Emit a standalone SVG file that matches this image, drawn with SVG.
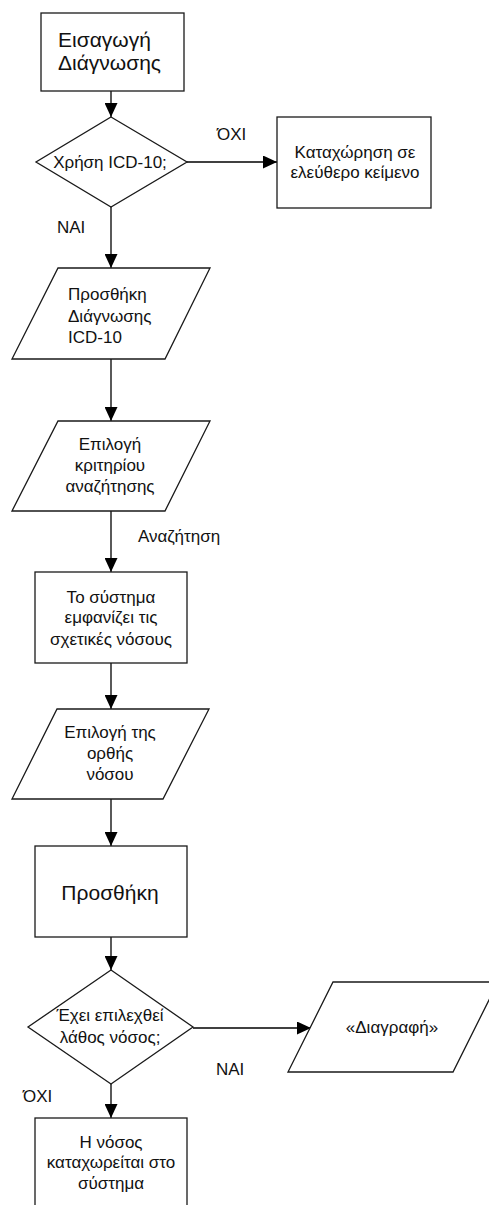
<svg xmlns="http://www.w3.org/2000/svg" width="489" height="1205" viewBox="0 0 489 1205">
<style>
.shape{fill:#fff;stroke:#1a1a1a;stroke-width:1.3}
.conn{fill:none;stroke:#000;stroke-width:1.3}
text{font-family:"Liberation Sans",Arial,sans-serif;fill:#111;font-size:17px}
.big{font-size:21px}
.c{text-anchor:middle}
</style>
<defs>
<marker id="arr" markerUnits="userSpaceOnUse" markerWidth="14" markerHeight="13" refX="14" refY="6.5" orient="auto">
<path d="M0,0 L14,6.5 L0,13 z" fill="#000"/>
</marker>
</defs>
<rect width="489" height="1205" fill="#fff"/>
<g id="connectors">
<line class="conn" x1="111" y1="91" x2="111" y2="117" marker-end="url(#arr)"/>
<line class="conn" x1="187" y1="162" x2="277" y2="162" marker-end="url(#arr)"/>
<line class="conn" x1="111" y1="207" x2="111" y2="268" marker-end="url(#arr)"/>
<line class="conn" x1="111" y1="359" x2="111" y2="421" marker-end="url(#arr)"/>
<line class="conn" x1="111" y1="511" x2="111" y2="572" marker-end="url(#arr)"/>
<line class="conn" x1="111" y1="663" x2="111" y2="709" marker-end="url(#arr)"/>
<line class="conn" x1="111" y1="799" x2="111" y2="846" marker-end="url(#arr)"/>
<line class="conn" x1="111" y1="937" x2="111" y2="970" marker-end="url(#arr)"/>
<line class="conn" x1="193" y1="1028" x2="311" y2="1028" marker-end="url(#arr)"/>
<line class="conn" x1="111" y1="1084" x2="111" y2="1118" marker-end="url(#arr)"/>
<text x="217" y="140">ΌΧΙ</text>
<text x="57" y="233">ΝΑΙ</text>
<text x="138" y="542">Αναζήτηση</text>
<text x="216" y="1075">ΝΑΙ</text>
<text x="23" y="1102">ΌΧΙ</text>
</g>
<g id="n1">
<rect class="shape" x="41" y="13" width="143" height="78"/>
<text class="big" x="58" y="47">Εισαγωγή</text>
<text class="big" x="58" y="70">Διάγνωσης</text>
</g>
<g id="n2">
<polygon class="shape" points="111,117 187,162 111,207 36,162"/>
<text class="c" x="110" y="168" font-size="16.5">Χρήση ICD-10;</text>
</g>
<g id="n3">
<rect class="shape" x="277" y="117" width="154" height="91"/>
<text class="c" x="355" y="158">Καταχώρηση σε</text>
<text class="c" x="355" y="178">ελεύθερο κείμενο</text>
</g>
<g id="n4">
<polygon class="shape" points="58,268 210,268 165,359 12,359"/>
<text x="68" y="300">Προσθήκη</text>
<text x="68" y="322">Διάγνωσης</text>
<text x="68" y="343">ICD-10</text>
</g>
<g id="n5">
<polygon class="shape" points="58,421 210,421 165,511 12,511"/>
<text class="c" x="110" y="450">Επιλογή</text>
<text class="c" x="110" y="471">κριτηρίου</text>
<text class="c" x="110" y="492">αναζήτησης</text>
</g>
<g id="n6">
<rect class="shape" x="35" y="572" width="152" height="91"/>
<text class="c" x="111" y="603">Το σύστημα</text>
<text class="c" x="111" y="623">εμφανίζει τις</text>
<text class="c" x="111" y="645">σχετικές νόσους</text>
</g>
<g id="n7">
<polygon class="shape" points="57,709 209,709 163,799 12,799"/>
<text class="c" x="110" y="738">Επιλογή της</text>
<text class="c" x="110" y="759">ορθής</text>
<text class="c" x="110" y="780">νόσου</text>
</g>
<g id="n8">
<rect class="shape" x="35" y="846" width="152" height="91"/>
<text class="c big" x="110" y="900">Προσθήκη</text>
</g>
<g id="n9">
<polygon class="shape" points="111,970 193,1027 111,1084 28,1027"/>
<text class="c" x="110" y="1021">Έχει επιλεχθεί</text>
<text class="c" x="110" y="1043">λάθος νόσος;</text>
</g>
<g id="n10">
<polygon class="shape" points="333,982 498,982 453,1072 288,1072"/>
<text class="c" x="392" y="1033">«Διαγραφή»</text>
</g>
<g id="n11">
<rect class="shape" x="35" y="1118" width="152" height="100"/>
<text class="c" x="111" y="1148">Η νόσος</text>
<text class="c" x="111" y="1168">καταχωρείται στο</text>
<text class="c" x="111" y="1189">σύστημα</text>
</g>
</svg>
